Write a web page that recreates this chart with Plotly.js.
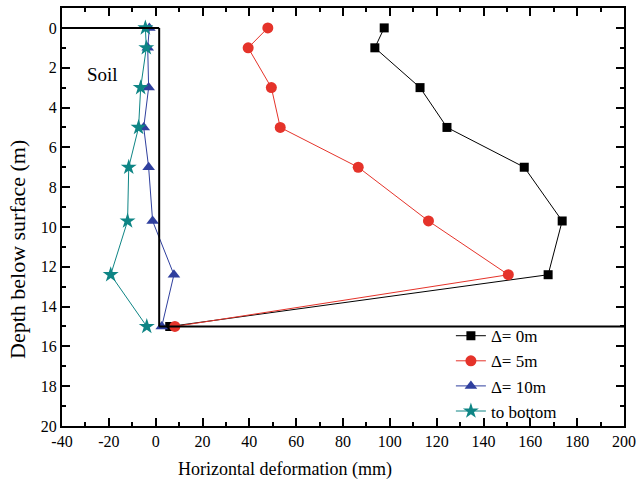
<!DOCTYPE html>
<html>
<head>
<meta charset="utf-8">
<script src="https://cdn.plot.ly/plotly-3.0.1.min.js"></script>
<style>html,body{margin:0;padding:0;background:#fff;}</style>
</head>
<body>
<div id="chart" style="width:638px;height:490px;"></div>
<script>
// Depths (m)
const depths = [0, 1, 3, 5, 7, 9.7, 12.4, 15];
// Horizontal deformation (mm)
const delta0 = [97.6, 93.6, 112.9, 124.4, 157.4, 173.6, 167.6, 6];
const delta5 = [47.9, 39.5, 49.4, 53.2, 86.5, 116.5, 150.6, 8.2];
const delta10 = [-2.7, -3.4, -3.0, -5.1, -3.0, -1.3, 7.8, 2.6];
const toBottom = [-4.4, -4.0, -6.4, -7.3, -11.5, -12.0, -19.2, -3.8];
const seriesNames = ['\u0394= 0m', '\u0394= 5m', '\u0394= 10m', 'to bottom'];
// X tick labels
const xTickVals = [-40, -20, 0, 20, 40, 60, 80, 100, 120, 140, 160, 180, 200];
const xTickText = ['-40', '-20', '0', '20', '40', '60', '80', '100', '120', '140', '160', '180', '200'];
// Soil boundary (wall outline)
const wallX = 1.5;
const wallDepth = 15;

const font = 'Liberation Serif, Times New Roman, serif';

const traces = [
  {x: delta0, y: depths, name: seriesNames[0], mode: 'lines+markers',
   line: {color: '#000000', width: 1}, marker: {symbol: 'square', size: 9, color: '#000000'}},
  {x: delta5, y: depths, name: seriesNames[1], mode: 'lines+markers',
   line: {color: '#e5332a', width: 1}, marker: {symbol: 'circle', size: 11, color: '#e5332a'}},
  {x: delta10, y: depths, name: seriesNames[2], mode: 'lines+markers',
   line: {color: '#2f3f9e', width: 1}, marker: {symbol: 'triangle-up', size: 11, color: '#2f3f9e'}},
  {x: toBottom, y: depths, name: seriesNames[3], mode: 'lines+markers',
   line: {color: '#0e8585', width: 1}, marker: {symbol: 'star', size: 12, color: '#0e8585'}}
];

const layout = {
  width: 638, height: 490,
  margin: {l: 62, r: 14, t: 8, b: 64},
  paper_bgcolor: '#fff', plot_bgcolor: '#fff',
  font: {family: font, size: 16, color: '#000'},
  showlegend: true,
  legend: {x: 0.692, y: 0.258, xanchor: 'left', yanchor: 'top',
           bgcolor: 'rgba(0,0,0,0)', borderwidth: 0, font: {family: font, size: 17},
           tracegroupgap: 0},
  xaxis: {
    range: [-40, 200], tickmode: 'array', tickvals: xTickVals, ticktext: xTickText,
    ticks: 'inside', ticklen: 8, tickwidth: 2, tickcolor: '#000',
    minor: {ticks: 'inside', dtick: 10, tick0: 0, ticklen: 4, tickwidth: 2, tickcolor: '#000'},
    showline: true, linewidth: 2, linecolor: '#000', mirror: 'allticks',
    showgrid: false, zeroline: false,
    tickfont: {family: font, size: 16}
  },
  yaxis: {
    range: [20, -1], dtick: 2, tick0: 0,
    ticks: 'inside', ticklen: 8, tickwidth: 2, tickcolor: '#000',
    minor: {ticks: 'inside', dtick: 1, ticklen: 4, tickwidth: 2, tickcolor: '#000'},
    showline: true, linewidth: 2, linecolor: '#000', mirror: 'allticks',
    showgrid: false, zeroline: false,
    tickfont: {family: font, size: 16}
  },
  shapes: [
    {type: 'line', xref: 'x', yref: 'y', x0: -40, x1: wallX, y0: 0, y1: 0, line: {color: '#000', width: 2}},
    {type: 'line', xref: 'x', yref: 'y', x0: wallX, x1: wallX, y0: 0, y1: wallDepth, line: {color: '#000', width: 2}},
    {type: 'line', xref: 'x', yref: 'y', x0: wallX, x1: 200, y0: wallDepth, y1: wallDepth, line: {color: '#000', width: 2}}
  ],
  annotations: [
    {x: -22.5, y: 2.35, xref: 'x', yref: 'y', text: 'Soil', showarrow: false,
     font: {family: font, size: 19, color: '#000'}},
    {x: (285 - 62) / 562, y: -(470 - 426) / 418, xref: 'paper', yref: 'paper',
     xanchor: 'center', yanchor: 'middle', text: 'Horizontal deformation (mm)', showarrow: false,
     font: {family: font, size: 18, color: '#000'}},
    {x: -(62 - 17) / 562, y: (426 - 250) / 418, xref: 'paper', yref: 'paper',
     xanchor: 'center', yanchor: 'middle', textangle: -90, text: 'Depth below surface (m)', showarrow: false,
     font: {family: font, size: 22, color: '#000'}}
  ]
};

Plotly.newPlot('chart', traces, layout, {displayModeBar: false, staticPlot: true});
</script>
</body>
</html>
